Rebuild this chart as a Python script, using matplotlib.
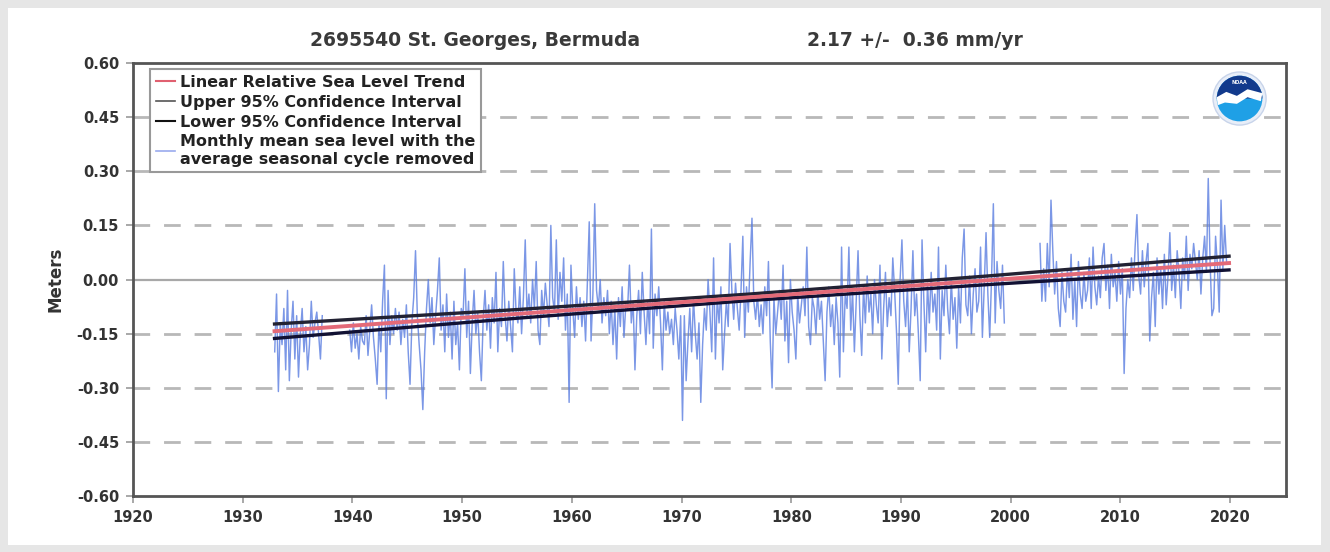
import numpy as np
import matplotlib
matplotlib.use("Agg")
import matplotlib.pyplot as plt
from matplotlib.patches import Rectangle, Circle, Wedge, Polygon

# station / trend info
station_title = "2695540 St. Georges, Bermuda"
rate_title = "2.17 +/-  0.36 mm/yr"
trend_start_year = 1932.9
trend_end_year = 2019.9
trend_start_val = -0.143
trend_rate = 0.00217  # m/yr
ci_years = [1932.9, 1955.0, 1976.0, 1998.0, 2019.9]
ci_half_width = [0.020, 0.012, 0.009, 0.012, 0.019]

# monthly mean sea level (seasonal cycle removed), sampled every 2 months, in cm
seg1_start = 1932.917
seg1_cm = [
    -20, -4, -31, -12, -18, -8,
    -25, -3, -28, -14, -6, -22,
    -10, -27, -15, -8, -20, -13,
    -25, -18, -6, -16, -12, -9,
    -15, -22, -10,
]
seg2_start = 1939.75
seg2_cm = [
    -14, -20,
    -12, -19, -15, -22, -13, -17,   # 1940
    -18, -10, -21, -14, -7, -16,
    -22, -29, -12, -20, -6, 4,
    -33, -3, -18, -10, -15, -8,
    -14, -9, -18, -11, -16, -7,
    -20, -29, -12, -5, 8, -10,
    -18, -25, -36, -20, -8, 0,
    -12, -5, -18, -10, -3, 6,
    -14, -7, -20, -4, -16, -9,
    -22, -6, -18, -12, -25, -8,
    -10, 3, -16, -6, -26, -12,      # 1950
    -3, -15, -9, -20, -28, -11,
    -3, -14, -7, -19, -5, -12,
    2, -20, -8, -13, 5, -10,
    -17, -6, -13, -20, 3, -9,
    -12, -2, -15, -5, 11, -10,
    -4, -12, 0, -8, 5, -14,
    -18, -3, -10, -1, -7, -13,
    15, -5, -9, 11, -11, 2,
    -6, 6, -14, -4, -34, 4,
    -8, -16, -2, -11, -5, -13,      # 1960
    -6, -17, 0, 16, -17, -4,
    21, -3, -8, 0, -12, -5,
    -10, -3, -15, -6, -18, -8,
    -22, -5, -13, -2, -16, -7,
    -8, 4, -12, -6, -25, -10,
    -3, -15, 2, -9, -18, -6,
    -15, 14, -19, -4, -10, -2,
    -12, -25, -6, -14, -9, -15,
    -11, -18, -8, -14, -22, -10,
    -39, -10, -28, -17, -8, -20,    # 1970
    -5, -15, -22, -12, -34, -18,
    -8, -14, 0, -9, -20, 6,
    -22, -5, -12, -2, -25, -15,
    -6, -13, 10, -3, -11, -1,
    -8, -14, -3, 12, -16, -2,
    -9, 5, 17, -6, -11, -4,
    -13, -7, -15, -2, -10, 5,
    -17, -30, -5, -15, -9, -3,
    -11, 4, -17, -6, -23, 0,
    -9, -14, -22, -4, -12, -7,      # 1980
    -2, -10, 9, -13, -18, -5,
    -8, -15, -3, -11, -6, -17,
    -28, -9, -2, -13, -7, -18,
    -5, -12, -27, 9, -20, -4,
    -8, 9, -14, -3, -20, -6,
    8, -10, -21, -2, -12, 1,
    -9, -4, -15, 0, -7, -12,
    4, -22, -8, 2, -13, -5,
    -10, 6, -3, -14, -29, 0,
    11, -6, -13, -2, -20, -8,       # 1990
    8, -10, -4, -15, -28, 11,
    -6, -20, -1, -12, 2, -9,
    -4, -14, 9, -22, -3, -10,
    4, -8, -15, 0, -11, -5,
    -19, -2, -12, 6, 14, -7,
    -10, 1, -15, -4, 3, -9,
    -6, 9, -16, -2, 13, -4,
    -16, 0, 21, -12, 5, -3,
    -8, 4, -12,
]
seg3_start = 2002.67
seg3_cm = [
    10, -6,
    3, -6, 10, -2, 22, 8,           # 2003
    -4, 5, -8, -13, 2, -6,
    -9, 3, -5, 7, -11, 0,
    -13, 5, -4, -8, 2, -6,
    -3, 6, -8, 9, -2, -7,
    1, -5, 6, 10, -3, 4,
    -8, 7, -2, 2, -6, 5,
    -4, 3, -26, -8, 0, -5,          # 2010
    6, -3, 9, 18, 1, -4,
    8, -2, 5, 10, -17, -5,
    2, -13, 6, -4, 3, -8,
    7, -7, 1, 13, -3, 4,
    -5, 8, 2, -8, 6, 0,
    12, -3, 7, 3, 10, 5,
    0, 8, -4, 6, 12, 2,
    28, 5, -10, -8, 12, 4,
    -9, 22, 3, 15, 5,
]

y_ticks = [-0.60, -0.45, -0.30, -0.15, 0.00, 0.15, 0.30, 0.45, 0.60]
x_ticks = [1920, 1930, 1940, 1950, 1960, 1970, 1980, 1990, 2000, 2010, 2020]

txt = "#333333"
blue = "#5a7de0"

fig = plt.figure(figsize=(13.3, 5.52), dpi=100)
fig.patch.set_facecolor("#e6e6e6")
fig.patches.append(Rectangle((8 / 1330, 7 / 552), 1 - 17 / 1330, 1 - 15 / 552,
                             transform=fig.transFigure, facecolor="white",
                             edgecolor="none", zorder=-10))

ax = fig.add_axes([0.1, 0.101, 0.867, 0.785])

for start, vals in [(seg1_start, seg1_cm), (seg2_start, seg2_cm), (seg3_start, seg3_cm)]:
    t = start + np.arange(len(vals)) / 6.0
    ax.plot(t, np.array(vals) / 100.0, color=blue, lw=1.05, alpha=0.8, zorder=3)

# trend and confidence interval
ty = np.array([trend_start_year, trend_end_year])
tv = trend_start_val + trend_rate * (ty - trend_start_year)
cy = np.array(ci_years)
cv = trend_start_val + trend_rate * (cy - trend_start_year)
ax.plot(cy, cv + np.array(ci_half_width), color="#222233", lw=2.4, zorder=4)
ax.plot(cy, cv - np.array(ci_half_width), color="#111133", lw=2.4, zorder=4)
ax.plot(ty, tv, color="#e46a78", lw=2.8, zorder=5)

# grid
for yv in y_ticks[1:-1]:
    if yv == 0:
        ax.axhline(0, color="#a8a8a8", lw=1.6, zorder=1)
    else:
        ax.axhline(yv, color="#b8b8b8", lw=2, ls=(0, (6, 5)), zorder=1)

ax.set_xlim(1920, 2025.1)
ax.set_ylim(-0.60, 0.60)
ax.set_yticks(y_ticks)
ax.set_yticklabels([f"{v:.2f}" for v in y_ticks])
ax.set_xticks(x_ticks)
ax.tick_params(axis="both", direction="out", length=5, width=1.2, color="#999999",
               labelsize=10.5, labelcolor=txt, pad=5)
for lab in ax.get_xticklabels() + ax.get_yticklabels():
    lab.set_fontweight("bold")
for s in ax.spines.values():
    s.set_color("#555555")
    s.set_linewidth(2)

ax.set_ylabel("Meters", fontsize=12, fontweight="bold", color=txt, labelpad=9)

fig.text(475 / 1330, 1 - 40 / 552, station_title, ha="center", va="center",
         fontsize=13.5, fontweight="bold", color="#3a3a3a")
fig.text(915 / 1330, 1 - 40 / 552, rate_title, ha="center", va="center",
         fontsize=13.5, fontweight="bold", color="#3a3a3a")

# legend
h1, = ax.plot([], [], color="#e06070", lw=1.5)
h2, = ax.plot([], [], color="#555555", lw=1.2)
h3, = ax.plot([], [], color="#111111", lw=1.5)
h4, = ax.plot([], [], color="#99aaee", lw=1.2)
leg = ax.legend([h1, h2, h3, h4],
                ["Linear Relative Sea Level Trend", "Upper 95% Confidence Interval",
                 "Lower 95% Confidence Interval",
                 "Monthly mean sea level with the\naverage seasonal cycle removed"],
                loc="upper left", bbox_to_anchor=(0.015, 0.985), borderaxespad=0,
                fancybox=False, framealpha=1, edgecolor="#999999",
                handlelength=1.2, handletextpad=0.3, labelspacing=0.3,
                prop={"size": 11.5, "weight": "bold"}, borderpad=0.35)
leg.get_frame().set_linewidth(1.5)
for t in leg.get_texts():
    t.set_color("#222222")
leg.set_zorder(6)

# NOAA logo
lax = fig.add_axes([0.911, 0.771, 0.042, 0.101])
lax.set_xlim(-1.05, 1.05)
lax.set_ylim(-1.05, 1.05)
lax.set_aspect("equal")
lax.axis("off")
lax.add_patch(Circle((0, 0), 1.0, facecolor="#e8eef8", edgecolor="#c8d4ea", lw=1))
lax.add_patch(Circle((0, 0), 0.86, facecolor="#1fa0e6", edgecolor="none"))
lax.add_patch(Wedge((0, 0), 0.86, 0, 180, facecolor="#123a8c", edgecolor="none"))
lax.add_patch(Polygon([(-0.86, 0.05), (-0.5, 0.25), (-0.1, 0.1), (0.3, 0.35),
                       (0.86, 0.2), (0.8, -0.1), (0.3, 0.05), (-0.1, -0.2),
                       (-0.55, -0.15), (-0.82, -0.25)],
                      closed=True, facecolor="white", edgecolor="none"))
lax.text(0, 0.6, "NOAA", ha="center", va="center", fontsize=3.5, color="white",
         fontweight="bold")

fig.savefig("out.png", dpi=100, facecolor=fig.get_facecolor())
